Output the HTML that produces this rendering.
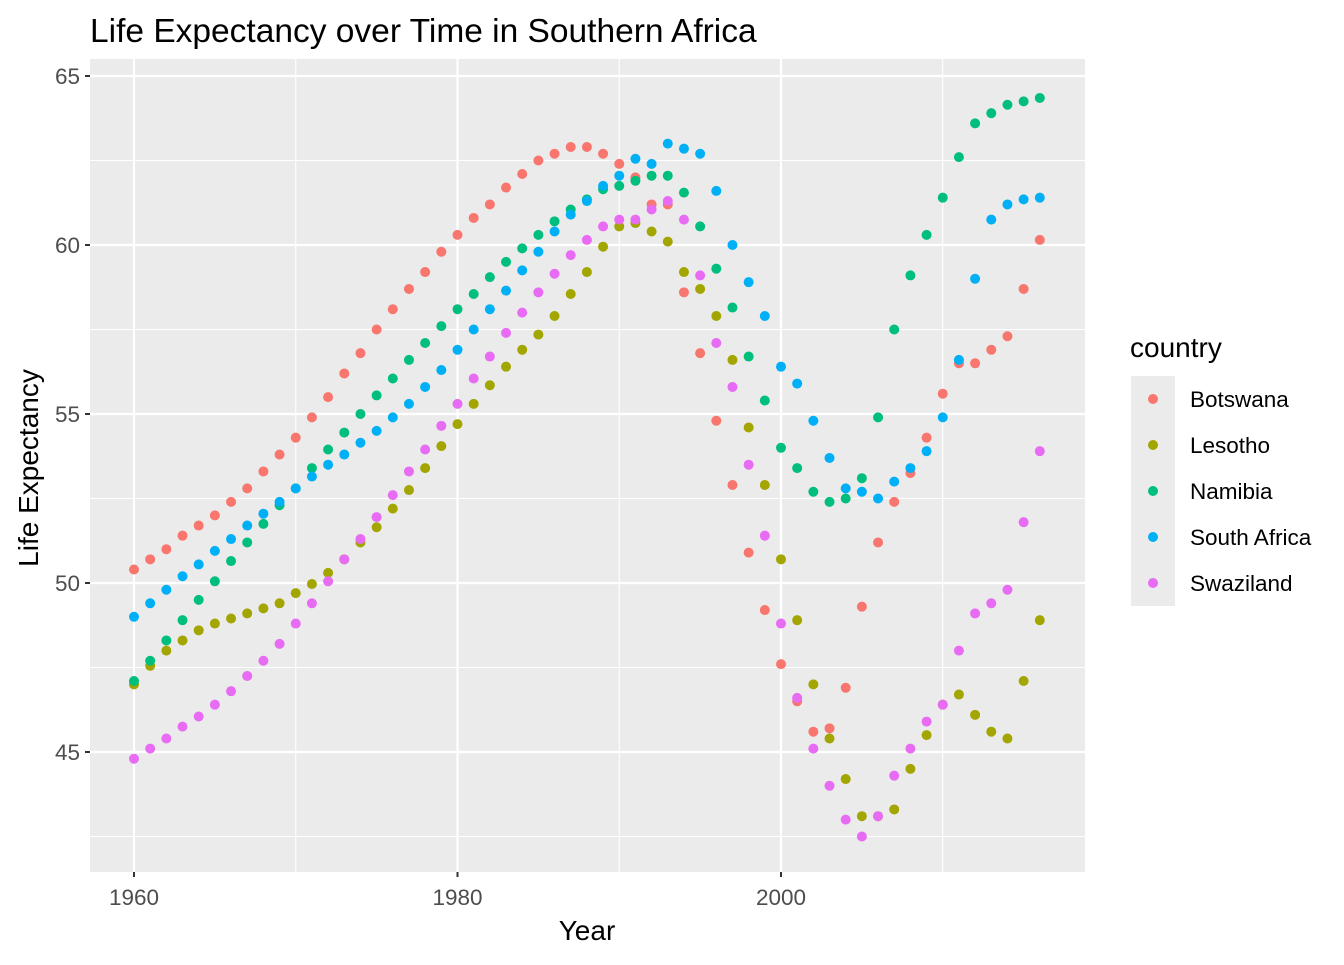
<!DOCTYPE html>
<html><head><meta charset="utf-8"><style>
body{margin:0;background:#fff;font-family:"Liberation Sans",Arial,sans-serif}
svg text{font-family:"Liberation Sans",Arial,sans-serif}
</style></head><body>
<svg id="chart" width="1344" height="960" xmlns="http://www.w3.org/2000/svg"></svg>
<script>
const years = Array.from({length:57},(_, i)=>1960+i);
const countries = ["Botswana","Lesotho","Namibia","South Africa","Swaziland"];
const colors = ["#F8766D","#A3A500","#00BF7D","#00B0F6","#E76BF3"];
const botswana = [50.4,50.7,51.0,51.4,51.7,52.0,52.4,52.8,53.3,53.8,54.3,54.9,55.5,56.2,56.8,57.5,58.1,58.7,59.2,59.8,60.3,60.8,61.2,61.7,62.1,62.5,62.7,62.9,62.9,62.7,62.4,62.0,61.2,61.2,58.6,56.8,54.8,52.9,50.9,49.2,47.6,46.5,45.6,45.7,46.9,49.3,51.2,52.4,53.25,54.3,55.6,56.5,56.5,56.9,57.3,58.7,60.15];
const lesotho = [47.0,47.55,48.0,48.3,48.6,48.8,48.95,49.1,49.25,49.4,49.7,49.97,50.3,50.7,51.2,51.65,52.2,52.75,53.4,54.05,54.7,55.3,55.85,56.4,56.9,57.35,57.9,58.55,59.2,59.95,60.55,60.65,60.4,60.1,59.2,58.7,57.9,56.6,54.6,52.9,50.7,48.9,47.0,45.4,44.2,43.1,43.1,43.3,44.5,45.5,46.4,46.7,46.1,45.6,45.4,47.1,48.9];
const namibia = [47.1,47.7,48.3,48.9,49.5,50.05,50.65,51.2,51.75,52.3,52.8,53.4,53.95,54.45,55.0,55.55,56.05,56.6,57.1,57.6,58.1,58.55,59.05,59.5,59.9,60.3,60.7,61.05,61.35,61.65,61.75,61.9,62.05,62.05,61.55,60.55,59.3,58.15,56.7,55.4,54.0,53.4,52.7,52.4,52.5,53.1,54.9,57.5,59.1,60.3,61.4,62.6,63.6,63.9,64.15,64.25,64.35];
const southAfrica = [49.0,49.4,49.8,50.2,50.55,50.95,51.3,51.7,52.05,52.4,52.8,53.15,53.5,53.8,54.15,54.5,54.9,55.3,55.8,56.3,56.9,57.5,58.1,58.65,59.25,59.8,60.4,60.9,61.3,61.75,62.05,62.55,62.4,63.0,62.85,62.7,61.6,60.0,58.9,57.9,56.4,55.9,54.8,53.7,52.8,52.7,52.5,53.0,53.4,53.9,54.9,56.6,59.0,60.75,61.2,61.35,61.4];
const swaziland = [44.8,45.1,45.4,45.75,46.05,46.4,46.8,47.25,47.7,48.2,48.8,49.4,50.05,50.7,51.3,51.95,52.6,53.3,53.95,54.65,55.3,56.05,56.7,57.4,58.0,58.6,59.15,59.7,60.15,60.55,60.75,60.75,61.05,61.3,60.75,59.1,57.1,55.8,53.5,51.4,48.8,46.6,45.1,44.0,43.0,42.5,43.1,44.3,45.1,45.9,46.4,48.0,49.1,49.4,49.8,51.8,53.9];
const xTicks = [1960,1980,2000];
const xMinor = [1970,1990,2010];
const yTicks = [45,50,55,60,65];
const yMinor = [42.5,47.5,52.5,57.5,62.5];

const series=[botswana,lesotho,namibia,southAfrica,swaziland];
const NS="http://www.w3.org/2000/svg";
const svg=document.getElementById('chart');
const P={l:90,r:1085,t:59,b:872};
const xs=v=>134+(v-1960)*(781-134)/40;
const ys=v=>76+(65-v)*(752-76)/20;
function mk(tag,attrs,parent){const e=document.createElementNS(NS,tag);for(const k in attrs)e.setAttribute(k,attrs[k]);(parent||svg).appendChild(e);return e;}
function txt(s,attrs,parent){const e=mk('text',attrs,parent);e.textContent=s;return e;}

const panel=mk('rect',{x:P.l,y:P.t,width:P.r-P.l,height:P.b-P.t,fill:'#EBEBEB'});


const grid=mk('g',{});


xMinor.forEach(v=>mk('line',{x1:xs(v),x2:xs(v),y1:P.t,y2:P.b,stroke:'#fff','stroke-width':1.1},grid));
yMinor.forEach(v=>mk('line',{x1:P.l,x2:P.r,y1:ys(v),y2:ys(v),stroke:'#fff','stroke-width':1.1},grid));
xTicks.forEach(v=>mk('line',{x1:xs(v),x2:xs(v),y1:P.t,y2:P.b,stroke:'#fff','stroke-width':2.2},grid));
yTicks.forEach(v=>mk('line',{x1:P.l,x2:P.r,y1:ys(v),y2:ys(v),stroke:'#fff','stroke-width':2.2},grid));

const xa=mk('g',{});


xTicks.forEach(v=>{
  mk('line',{x1:xs(v),x2:xs(v),y1:P.b,y2:P.b+5,stroke:'#333','stroke-width':2},xa);
  const t=txt(String(v),{x:xs(v),y:P.b+33,'font-size':22.5,fill:'#4D4D4D','text-anchor':'middle'},xa);
  
  
});
const ya=mk('g',{});


yTicks.forEach(v=>{
  mk('line',{x1:P.l-5,x2:P.l,y1:ys(v),y2:ys(v),stroke:'#333','stroke-width':2},ya);
  const t=txt(String(v),{x:P.l-10,y:ys(v)+8,'font-size':22.5,fill:'#4D4D4D','text-anchor':'end'},ya);
  
  
});

const pts=mk('g',{});


series.forEach((s,ci)=>{
  s.forEach((v,i)=>{
    const c=mk('circle',{cx:xs(years[i]),cy:ys(v),r:5,fill:colors[ci]},pts);
    
    
  });
});

const title=txt('Life Expectancy over Time in Southern Africa',{x:90,y:42,'font-size':33.5,fill:'#000'});


const xt=txt('Year',{x:587,y:940,'font-size':28,fill:'#000','text-anchor':'middle'});


const yt=txt('Life Expectancy',{x:0,y:0,'font-size':28,fill:'#000','text-anchor':'middle',transform:'translate(38,468) rotate(-90)'});



const lg=mk('g',{});


const lt=txt('country',{x:1130,y:357,'font-size':28,fill:'#000'},lg);


countries.forEach((c,i)=>{
  const y=399+i*46;
  const e=mk('g',{},lg);
  
  
  mk('rect',{x:1131,y:y-23,width:44,height:46,fill:'#EBEBEB'},e);
  mk('circle',{cx:1153,cy:y,r:5,fill:colors[i]},e);
  txt(c,{x:1190,y:y+8,'font-size':22.5,fill:'#000'},e);
});
</script>
</body></html>
